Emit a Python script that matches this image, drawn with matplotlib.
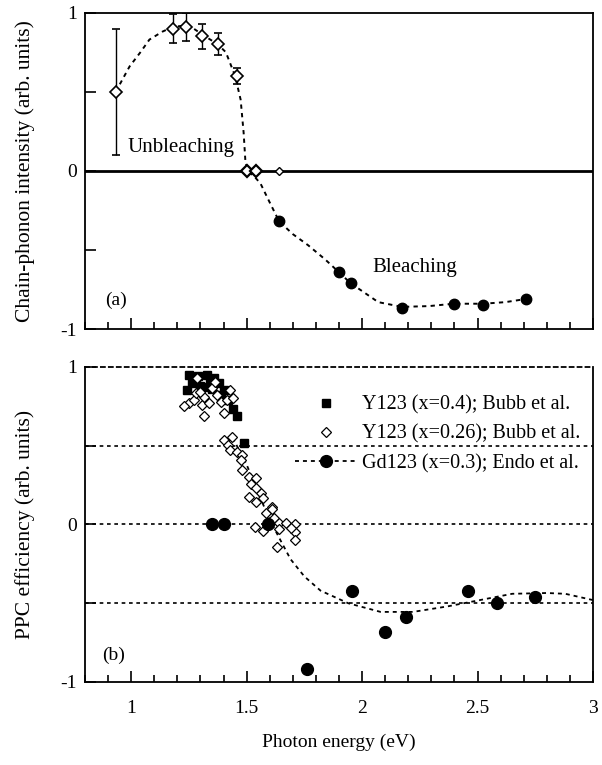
import matplotlib
matplotlib.use("Agg")
import matplotlib.pyplot as plt
from matplotlib.ticker import MultipleLocator, FormatStrFormatter

plt.rcParams['font.family'] = ['Liberation Serif', 'DejaVu Serif']
plt.rcParams['axes.unicode_minus'] = False

# ---- panel (a): chain-phonon intensity ----
unbl_e = [0.933, 1.182, 1.238, 1.306, 1.375, 1.457]
unbl_v = [0.50, 0.90, 0.91, 0.85, 0.80, 0.60]
unbl_err = [0.40, 0.09, 0.09, 0.08, 0.07, 0.05]

zero_e = [1.50, 1.54]
zero_v = [0.0, 0.0]
zero_small_e = [1.64]
zero_small_v = [0.0]

bl_e = [1.641, 1.899, 1.950, 2.173, 2.396, 2.525, 2.710]
bl_v = [-0.32, -0.64, -0.71, -0.87, -0.84, -0.85, -0.81]

guide_a_e = [0.933, 0.993, 1.04, 1.079, 1.135, 1.18, 1.24, 1.27, 1.31, 1.375, 1.41,
             1.45, 1.474, 1.487, 1.495, 1.51, 1.53, 1.56, 1.60, 1.641, 1.70, 1.766,
             1.84, 1.899, 1.950, 2.00, 2.07, 2.173, 2.29, 2.396, 2.525, 2.62, 2.710]
guide_a_v = [0.50, 0.66, 0.75, 0.83, 0.88, 0.91, 0.92, 0.90, 0.86, 0.80, 0.75,
             0.60, 0.45, 0.24, 0.05, -0.01, -0.03, -0.08, -0.20, -0.32, -0.40, -0.47,
             -0.56, -0.64, -0.71, -0.76, -0.83, -0.86, -0.855, -0.84, -0.84, -0.83, -0.81]

# ---- panel (b): PPC efficiency ----
y04_e = [1.250, 1.242, 1.265, 1.290, 1.330, 1.360, 1.380, 1.400, 1.420, 1.440,
         1.457, 1.320, 1.340, 1.300, 1.280, 1.350, 1.390, 1.487]
y04_v = [0.95, 0.855, 0.90, 0.94, 0.95, 0.93, 0.90, 0.855, 0.79, 0.73,
         0.69, 0.87, 0.91, 0.88, 0.92, 0.86, 0.82, 0.52]

y026_e = [1.285, 1.250, 1.270, 1.305, 1.315, 1.280, 1.315, 1.350, 1.370, 1.390,
          1.400, 1.430, 1.415, 1.365, 1.335, 1.230, 1.440, 1.300,
          1.400, 1.435, 1.420, 1.430, 1.457, 1.480, 1.475, 1.480, 1.510, 1.540,
          1.520, 1.510, 1.540, 1.560, 1.570, 1.610, 1.585, 1.620, 1.640, 1.535,
          1.570, 1.670, 1.710, 1.710, 1.710, 1.630, 1.540, 1.640, 1.610, 1.690]
y026_v = [0.93, 0.77, 0.79, 0.76, 0.69, 0.835, 0.81, 0.865, 0.82, 0.78,
          0.71, 0.855, 0.79, 0.905, 0.77, 0.75, 0.80, 0.84,
          0.537, 0.556, 0.505, 0.473, 0.46, 0.44, 0.41, 0.346, 0.30, 0.295,
          0.26, 0.175, 0.143, 0.20, 0.17, 0.11, 0.073, 0.04, 0.01, -0.015,
          -0.04, 0.01, 0.0, -0.05, -0.10, -0.14, 0.23, -0.03, 0.10, -0.02]

gd_e = [1.35, 1.40, 1.594, 1.76, 1.955, 2.10, 2.19, 2.457, 2.585, 2.75]
gd_v = [0.0, 0.0, 0.0, -0.92, -0.42, -0.68, -0.59, -0.42, -0.50, -0.46]

guide_b_e = [1.44, 1.50, 1.55, 1.60, 1.65, 1.69, 1.75, 1.82, 1.94, 2.08, 2.22,
             2.37, 2.51, 2.65, 2.80, 2.88, 2.97, 3.0]
guide_b_v = [0.55, 0.38, 0.20, 0.03, -0.11, -0.22, -0.33, -0.42, -0.50, -0.555, -0.555,
             -0.52, -0.48, -0.44, -0.435, -0.44, -0.47, -0.48]

ref_levels = [0.5, 0.0, -0.5]

fig = plt.figure(figsize=(6.02, 7.65), dpi=100)
ax1 = fig.add_axes([0.1412, 0.5699, 0.8439, 0.4135])
ax2 = fig.add_axes([0.1412, 0.1085, 0.8439, 0.4118])

dot = (0, (2.2, 2.2))

# panel (a)
ax1.axhline(0, color='black', lw=2.0, zorder=1)
ax1.plot(guide_a_e, guide_a_v, color='black', lw=1.4, ls=dot, zorder=2)
ax1.errorbar(unbl_e, unbl_v, yerr=unbl_err, fmt='D', ms=6.3, mfc='white', mec='black',
             mew=1.2, ecolor='black', elinewidth=1.0, capsize=3, capthick=1.0, zorder=3)
ax1.plot(zero_e, zero_v, 'D', ms=6.3, mfc='white', mec='black', mew=1.6, ls='none', zorder=3)
ax1.plot(zero_small_e, zero_small_v, 'D', ms=4, mfc='white', mec='black', mew=1.0,
         ls='none', zorder=3)
ax1.plot(bl_e, bl_v, 'o', ms=7.5, color='black', ls='none', zorder=3)
ax1.text(0.985, 0.15, 'Unbleaching', fontsize=15, va='center', ha='left')
ax1.text(2.045, -0.61, 'Bleaching', fontsize=15, va='center', ha='left')
ax1.text(0.885, -0.82, '(a)', fontsize=14, va='center', ha='left')
ax1.set_ylabel('Chain-phonon intensity (arb. units)', fontsize=15.5, labelpad=18)

# panel (b)
for lvl in ref_levels:
    ax2.axhline(lvl, color='black', lw=1.2, ls=dot, zorder=1)
ax2.plot(guide_b_e, guide_b_v, color='black', lw=1.3, ls=dot, zorder=2)
ax2.plot(y04_e, y04_v, 's', ms=6, color='black', ls='none', zorder=3,
         label='Y123 (x=0.4); Bubb et al.')
ax2.plot(y026_e, y026_v, 'D', ms=5, mfc='white', mec='black', mew=0.9, ls='none',
         zorder=4, label='Y123 (x=0.26); Bubb et al.')
ax2.plot(gd_e, gd_v, 'o', ms=8.5, color='black', ls='none', zorder=5)
ax2.plot([], [], color='black', lw=1.3, ls=dot, marker='o', ms=8.5,
         label='Gd123 (x=0.3); Endo et al.')
ax2.text(0.875, -0.83, '(b)', fontsize=14, va='center', ha='left')
ax2.set_ylabel('PPC efficiency (arb. units)', fontsize=15.5, labelpad=18)
ax2.set_xlabel('Photon energy (eV)', fontsize=14, labelpad=12)
ax2.spines['top'].set_linestyle(dot)
ax2.legend(loc='upper left', bbox_to_anchor=(0.413, 0.91), frameon=False, fontsize=14.5,
           handlelength=3.1, handletextpad=0.25, labelspacing=0.5, borderaxespad=0,
           borderpad=0)

for ax in (ax1, ax2):
    ax.set_xlim(0.8, 3.0)
    ax.set_ylim(-1, 1)
    ax.xaxis.set_major_locator(MultipleLocator(0.5))
    ax.xaxis.set_minor_locator(MultipleLocator(0.1))
    ax.xaxis.set_major_formatter(FormatStrFormatter('%g'))
    ax.set_yticks([-1, -0.5, 0, 0.5, 1])
    ax.set_yticklabels(['-1', '', '0', '', '1'])
    ax.tick_params(axis='both', which='major', direction='in', length=8, width=1.2,
                   labelsize=14, top=False, right=False)
    ax.tick_params(axis='x', which='minor', direction='in', length=5, width=1.2,
                   top=False)
    ax.tick_params(axis='x', which='major', pad=13)
    ax.tick_params(axis='y', which='major', pad=6)
    for s in ax.spines.values():
        s.set_linewidth(1.3)

ax1.set_xticklabels([])

fig.savefig('out.png', dpi=100)
